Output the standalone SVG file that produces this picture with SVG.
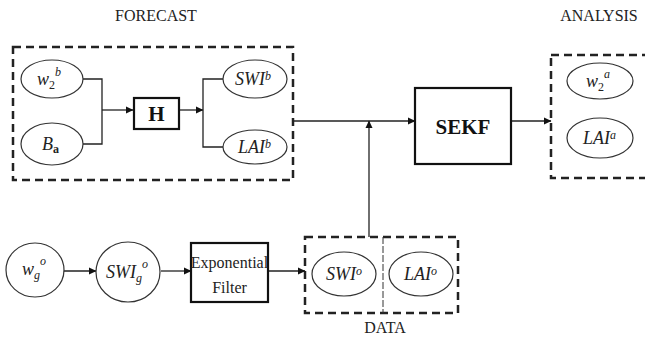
<svg xmlns="http://www.w3.org/2000/svg" width="645" height="345" viewBox="0 0 645 345">
<style>
.lbl{font-family:"Liberation Serif","Times New Roman",serif;font-size:16px;fill:#222}
.math{font-family:"Liberation Serif","Times New Roman",serif;font-style:italic;font-size:18px;fill:#222}
.sub{font-size:12px}
.box{fill:none;stroke:#222;stroke-width:2.5;stroke-dasharray:8,5}
.ell{fill:#fff;stroke:#333;stroke-width:1.2}
.blk{fill:#fff;stroke:#111;stroke-width:2.2}
.ln{fill:none;stroke:#222;stroke-width:1.3}
.bold{font-family:"Liberation Serif","Times New Roman",serif;font-weight:bold;fill:#111}
</style>
<defs>
<marker id="ah" markerWidth="8" markerHeight="8" refX="7" refY="4" orient="auto" markerUnits="userSpaceOnUse">
<path d="M0,0.5 L7.5,4 L0,7.5 Z" fill="#111"/>
</marker>
</defs>
<rect width="645" height="345" fill="#fff"/>

<text class="lbl" x="156" y="21" text-anchor="middle">FORECAST</text>
<text class="lbl" x="599" y="21" text-anchor="middle">ANALYSIS</text>
<text class="lbl" x="385" y="333" text-anchor="middle">DATA</text>

<g id="forecast-group"><rect class="box" x="13" y="47" width="280" height="133"/></g>
<g id="analysis-group"><rect class="box" x="551" y="55" width="110" height="123"/></g>
<g id="data-group">
<rect class="box" x="305" y="237" width="153" height="76"/>
<line x1="383" y1="237" x2="383" y2="313" stroke="#333" stroke-width="1" stroke-dasharray="7,2"/>
</g>

<g id="connectors">
<path class="ln" d="M83,79 H102 V144 H83"/>
<path class="ln" d="M102,110 H133" marker-end="url(#ah)"/>
<path class="ln" d="M179,110 H203" marker-end="url(#ah)"/>
<path class="ln" d="M223,79 H203 V147 H223"/>
<path class="ln" d="M293,121 H415" marker-end="url(#ah)"/>
<path class="ln" d="M369,237 V121" marker-end="url(#ah)"/>
<path class="ln" d="M511,121 H551" marker-end="url(#ah)"/>
<path class="ln" d="M63,271 H96" marker-end="url(#ah)"/>
<path class="ln" d="M161,271 H191" marker-end="url(#ah)"/>
<path class="ln" d="M268,271 H305" marker-end="url(#ah)"/>
</g>

<g id="w2b"><ellipse class="ell" cx="52" cy="79" rx="31" ry="19"/>
<text class="math" x="37" y="85">w<tspan class="sub" font-style="normal" dy="4">2</tspan><tspan class="sub" dy="-13">b</tspan></text></g>
<g id="Ba"><ellipse class="ell" cx="52" cy="144" rx="31" ry="21"/>
<text class="math" x="42" y="150">B<tspan class="sub" font-style="normal" font-weight="bold" dy="3">a</tspan></text></g>
<g id="H"><rect class="blk" x="134" y="98" width="45" height="31"/>
<text class="bold" x="156.5" y="121" font-size="21" text-anchor="middle">H</text></g>
<g id="SWIb"><ellipse class="ell" cx="255" cy="79" rx="32" ry="19"/>
<text class="math" x="235" y="85">SWI<tspan class="sub" dy="-5">b</tspan></text></g>
<g id="LAIb"><ellipse class="ell" cx="255" cy="147" rx="32" ry="17"/>
<text class="math" x="238" y="153">LAI<tspan class="sub" dy="-5">b</tspan></text></g>
<g id="SEKF"><rect class="blk" x="415" y="88" width="96" height="76" stroke-width="2.6"/>
<text class="bold" x="463" y="134" font-size="21" text-anchor="middle">SEKF</text></g>
<g id="w2a"><ellipse class="ell" cx="600" cy="81" rx="33" ry="18"/>
<text class="math" x="586" y="87">w<tspan class="sub" font-style="normal" dy="4">2</tspan><tspan class="sub" dy="-13">a</tspan></text></g>
<g id="LAIa"><ellipse class="ell" cx="600" cy="138" rx="33" ry="20"/>
<text class="math" x="583" y="144">LAI<tspan class="sub" dy="-5">a</tspan></text></g>
<g id="wgo"><ellipse class="ell" cx="35" cy="270" rx="29" ry="27"/>
<text class="math" x="22" y="275">w<tspan class="sub" dy="4">g</tspan><tspan class="sub" dy="-14">o</tspan></text></g>
<g id="SWIgo"><ellipse class="ell" cx="128" cy="272" rx="32" ry="30"/>
<text class="math" x="106" y="278">SWI<tspan class="sub" dy="4">g</tspan><tspan class="sub" dy="-14">o</tspan></text></g>
<g id="ExpFilter"><rect class="blk" x="191" y="243" width="77" height="59"/>
<text class="lbl" x="229.5" y="268" font-size="14" text-anchor="middle">Exponential</text>
<text class="lbl" x="229.5" y="293" font-size="14" text-anchor="middle">Filter</text></g>
<g id="SWIo"><ellipse class="ell" cx="344" cy="274" rx="32" ry="22"/>
<text class="math" x="326" y="280">SWI<tspan class="sub" dy="-5">o</tspan></text></g>
<g id="LAIo"><ellipse class="ell" cx="421" cy="274" rx="32" ry="22"/>
<text class="math" x="404" y="280">LAI<tspan class="sub" dy="-5">o</tspan></text></g>
</svg>
